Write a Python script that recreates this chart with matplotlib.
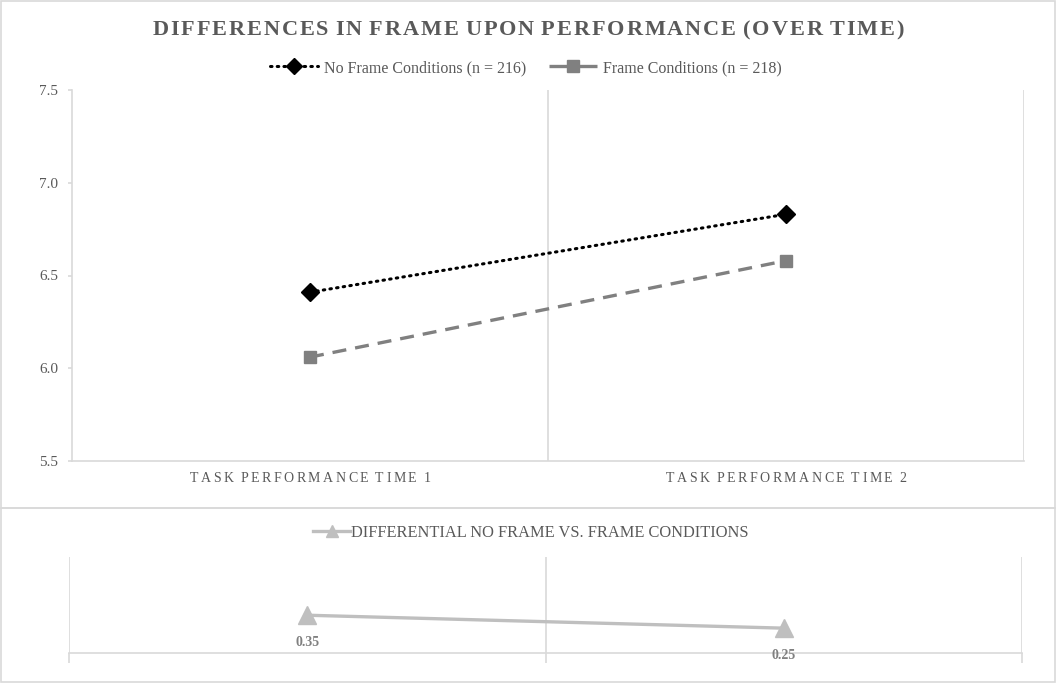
import numpy as np
import matplotlib.pyplot as plt
from matplotlib.lines import Line2D
from matplotlib.patches import Rectangle

# Data
times = ["TASK PERFORMANCE TIME 1", "TASK PERFORMANCE TIME 2"]
no_frame = [6.41, 6.83]
frame = [6.06, 6.58]
differential = [0.35, 0.25]
diff_labels = ["0.35", "0.25"]
no_frame_label = "No Frame Conditions (n = 216)"
frame_label = "Frame Conditions (n = 218)"
diff_label = "DIFFERENTIAL NO FRAME VS. FRAME CONDITIONS"
title = "DIFFERENCES IN FRAME UPON PERFORMANCE (OVER TIME)"

W, H = 1056, 683
TXT = "#595959"
GRID = "#D9D9D9"
SERIF = "Liberation Serif"

plt.rcParams["font.family"] = SERIF
fig = plt.figure(figsize=(W / 100, H / 100), dpi=100)


def box(l, t, r, b):
    # pixel box (top-left origin) -> figure fraction rect
    return [l / W, 1 - b / H, (r - l) / W, (b - t) / H]


def spaced_text(xpx, ypx, s, track, **kw):
    # draw text with extra letter spacing (pixels), centred on xpx
    r = fig.canvas.get_renderer()
    widths = []
    for ch in s:
        if ch == " ":
            a = fig.text(0, 0, "AA", **kw)
            b = fig.text(0, 0, "A A", **kw)
            w = b.get_window_extent(r).width - a.get_window_extent(r).width
            a.remove()
            b.remove()
        else:
            t = fig.text(0, 0, ch, **kw)
            w = t.get_window_extent(r).width
            t.remove()
        widths.append(w)
    total = sum(widths) + track * (len(s) - 1)
    x = xpx - total / 2
    for ch, w in zip(s, widths):
        fig.text(x / W, 1 - ypx / H, ch, ha="left", va="center", **kw)
        x += w + track


# chart borders (two stacked charts)
fig.patches.append(Rectangle((1 / W, 1 - 508 / H), 1054 / W, 507 / H, transform=fig.transFigure,
                             fill=False, edgecolor=GRID, lw=1.2))
fig.patches.append(Rectangle((1 / W, 1 / H), 1054 / W, 174 / H, transform=fig.transFigure,
                             fill=False, edgecolor=GRID, lw=1.2))

dotted = (0, (0.5, 1.7))
dashed = (0, (4.2, 2.7))

# top chart
ax = fig.add_axes(box(72, 90, 1024, 461))
x = np.arange(len(times)) + 0.5
ax.plot(x, no_frame, color="black", lw=2.2, linestyle=dotted, dash_capstyle="round",
        marker="D", ms=9, zorder=3)
ax.plot(x, frame, color="#808080", lw=2.4, linestyle=dashed,
        marker="s", ms=8, zorder=3)
ax.set_xlim(0, 2)
ax.set_ylim(5.5, 7.5)
ax.set_yticks([5.5, 6.0, 6.5, 7.0, 7.5])
ax.set_yticklabels(["5.5", "6.0", "6.5", "7.0", "7.5"])
ax.set_xticks([])
for s in ["top", "right"]:
    ax.spines[s].set_visible(False)
for s in ["left", "bottom"]:
    ax.spines[s].set_color(GRID)
    ax.spines[s].set_linewidth(1.2)
for xv in [1, 2]:
    ax.axvline(xv, color=GRID, lw=1.2, zorder=1)
ax.tick_params(axis="y", length=3, width=1.2, color=GRID, labelcolor=TXT, labelsize=11, pad=7)

spaced_text(528, 30, title, 1.9, fontsize=16, fontweight="bold", color=TXT, family=SERIF)

handles = [Line2D([], [], color="black", lw=2.2, linestyle=dotted, dash_capstyle="round",
                  marker="D", ms=8),
           Line2D([], [], color="#808080", lw=2.4, linestyle=(0, (6, 2.4)), marker="s", ms=8)]
fig.legend(handles, [no_frame_label, frame_label], loc="center", ncol=2,
           bbox_to_anchor=(526 / W, 1 - 68 / H), frameon=False, fontsize=11.5,
           labelcolor=TXT, handlelength=3.0, handletextpad=0.4, columnspacing=1.4)

fig.canvas.draw()
for xi, lab in zip(x, times):
    xpx = ax.transData.transform((xi, 0))[0]
    spaced_text(xpx, 479, lab, 2.5, fontsize=10, color=TXT, family=SERIF)

# bottom chart
bx = fig.add_axes(box(69, 557, 1022, 653))
bx.plot(x, differential, color="#BFBFBF", lw=2.4, marker="^", ms=13, zorder=3)
bx.set_xlim(0, 2)
bx.set_ylim(0.058, 0.8)
bx.set_yticks([])
bx.set_xticks([0, 1, 2])
bx.set_xticklabels([])
bx.tick_params(axis="x", length=7, width=1.2, color=GRID)
for s in ["top", "right", "left"]:
    bx.spines[s].set_visible(False)
bx.spines["bottom"].set_color(GRID)
bx.spines["bottom"].set_linewidth(1.2)
for xv in [0, 1, 2]:
    bx.axvline(xv, color=GRID, lw=1.2, zorder=1)
for xi, v, lab in zip(x, differential, diff_labels):
    bx.annotate(lab, (xi, v), xytext=(0, -20), textcoords="offset points", ha="center",
                va="center", fontsize=10, fontweight="bold", color="#808080")

fig.legend([Line2D([], [], color="#BFBFBF", lw=2.4, marker="^", ms=9)], [diff_label],
           loc="center", bbox_to_anchor=(531 / W, 1 - 533 / H), frameon=False, fontsize=11.8,
           labelcolor=TXT, handlelength=2.25, handletextpad=0.05)

fig.savefig("out.png", dpi=100)
